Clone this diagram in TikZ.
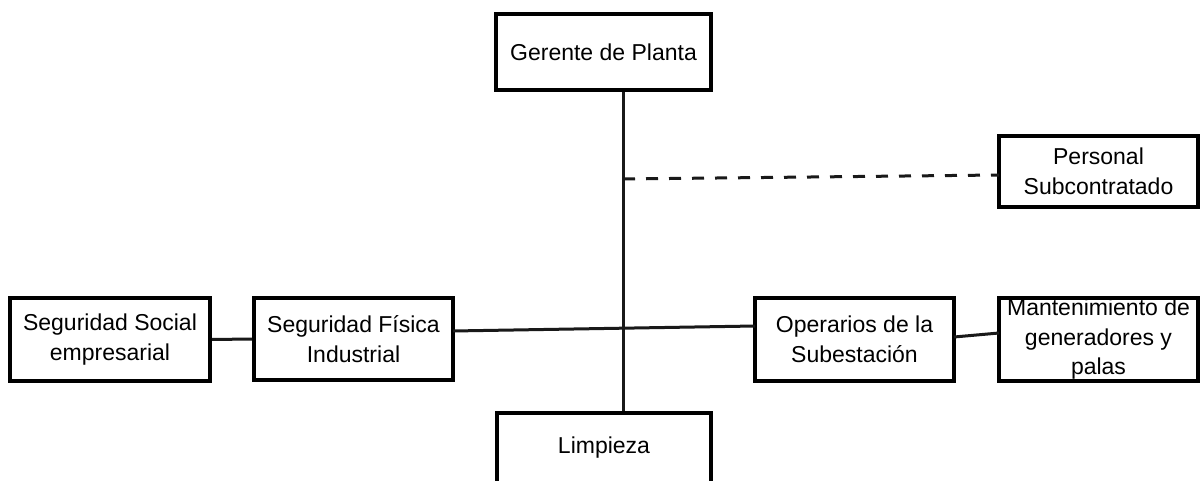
\documentclass[tikz,border=0pt]{standalone}
\usepackage{fontspec}
\setmainfont{Liberation Sans}
\begin{document}
\begin{tikzpicture}[x=1pt,y=-1pt,
  box/.style={draw=black, line width=4pt, inner sep=0pt, align=center,
    font=\fontsize{23}{29.5}\selectfont, text=black},
  wbox/.style={box, minimum width=199pt},
  conn/.style={line width=3pt, draw=black!90},
  dashconn/.style={conn, dash pattern=on 12pt off 11pt}]
\useasboundingbox (0,0) rectangle (1201,481);
\fill[white] (0,0) rectangle (1201,481);
\node[box, minimum width=215pt, minimum height=76pt] (ger) at (603.5,52) {Gerente de Planta};
\node[wbox, minimum height=71pt] (per) at (1098.5,171.5) {Personal\\Subcontratado};
\node[box, minimum width=200pt, minimum height=83pt] (soc) at (110,339.5) {Seguridad Social\\empresarial};
\node[wbox, minimum height=82pt] (fis) at (353.5,339) {Seguridad Física\\Industrial};
\node[wbox, minimum height=83pt] (ope) at (854.5,339.5) {Operarios de la\\Subestación};
\node[wbox, minimum height=83pt] (man) at (1098.5,339.5) {Mantenimiento de\\generadores y\\palas};
\node[box, minimum width=214pt, minimum height=70pt] (lim) at (604,448) {Limpieza};
% spine
\coordinate (sp) at (623,0);
\coordinate (dash0) at (623,179);
\coordinate (dash1) at (999,175);
\coordinate (h0) at (453,331);
\coordinate (h1) at (755,326);
\coordinate (m0) at (954,337);
\coordinate (m1) at (999,333);
\draw[conn] (ger.south -| sp) -- (lim.north -| sp);
\draw[dashconn] (dash0) -- (dash1);
\draw[conn] (h0) -- (h1);
\draw[conn] (soc.east) -- (fis.west);
\draw[conn] (m0) -- (m1);
\end{tikzpicture}
\end{document}
